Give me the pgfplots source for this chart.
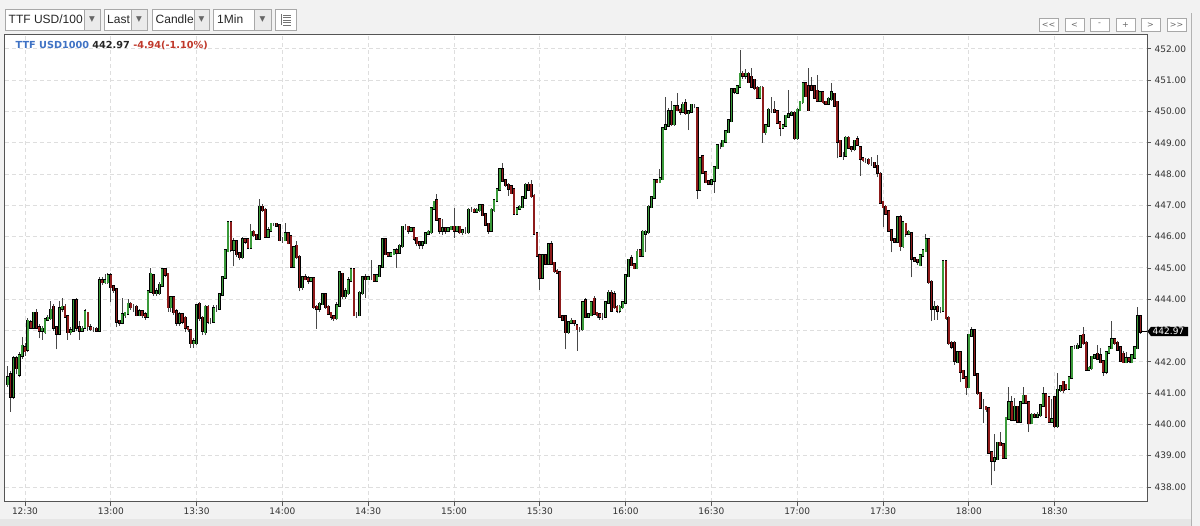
\documentclass[border=0pt]{standalone}
\usepackage{fontspec}
\setmainfont{DejaVu Sans}
\newfontfamily\arialfont{Liberation Sans}
\usepackage{pgfplots}
\pgfplotsset{compat=1.18}
\usepackage{pgfplotstable}
\usetikzlibrary{backgrounds}
\definecolor{bgcol}{HTML}{F2F2F2}
\definecolor{bandcol}{HTML}{E6E6E6}
\definecolor{upcol}{HTML}{3A9A3A}
\definecolor{dncol}{HTML}{8E1B1B}
\definecolor{wickcol}{HTML}{484848}
\definecolor{gridcol}{HTML}{DEDEDE}
\definecolor{axcol}{HTML}{555555}
\definecolor{lblcol}{HTML}{333333}
\definecolor{titleblue}{HTML}{3F72C4}
\definecolor{titlered}{HTML}{C0392B}
\definecolor{boxborder}{HTML}{A8A8A8}

\pgfplotstableread{
i o h l c
0 441.30 441.85 441.20 441.50
1 441.60 441.70 440.40 440.90
2 440.90 442.20 440.80 442.10
3 442.10 442.20 441.60 441.80
4 441.60 442.30 441.50 442.20
5 442.20 442.80 442.10 442.50
6 442.45 442.60 442.20 442.35
7 442.40 443.40 442.30 443.30
8 443.25 443.35 443.05 443.10
9 443.10 443.60 443.05 443.55
10 443.55 443.70 443.05 443.10
11 443.10 443.20 442.75 443.00
12 443.00 443.15 442.70 443.05
13 442.95 443.40 442.90 443.35
14 443.35 443.50 443.30 443.40
15 443.40 443.95 443.35 443.65
16 443.75 443.85 443.00 443.10
17 443.10 443.15 442.40 442.90
18 442.90 443.95 442.85 443.70
19 443.70 444.05 443.60 443.75
20 443.75 443.85 443.40 443.45
21 443.45 443.50 442.70 442.95
22 442.95 443.10 442.85 443.00
23 443.00 444.00 442.95 443.95
24 443.95 444.05 443.00 443.10
25 443.10 443.30 442.70 443.00
26 443.00 443.15 442.95 443.05
27 443.10 443.70 443.05 443.60
28 443.55 443.60 443.00 443.15
29 443.10 443.20 443.00 443.05
30 443.05 443.10 442.95 443.05
31 443.05 443.10 442.95 443.00
32 443.00 444.70 442.95 444.60
33 444.60 444.70 444.45 444.55
34 444.55 444.80 444.50 444.60
35 444.55 444.85 444.50 444.75
36 444.75 444.85 443.90 444.40
37 444.40 444.45 444.20 444.30
38 444.30 444.35 443.10 443.30
39 443.30 443.35 443.15 443.25
40 443.25 444.05 443.20 443.50
41 443.50 443.60 443.40 443.55
42 443.55 444.00 443.50 443.85
43 443.85 443.90 443.65 443.75
44 443.75 443.85 443.60 443.75
45 443.75 443.80 443.45 443.50
46 443.50 443.70 443.45 443.60
47 443.60 443.65 443.40 443.50
48 443.50 443.60 443.35 443.45
49 443.45 444.30 443.40 444.25
50 444.25 445.00 444.20 444.80
51 444.75 444.80 444.10 444.20
52 444.20 444.35 444.10 444.25
53 444.20 444.55 444.15 444.45
54 444.45 445.00 444.40 444.95
55 444.95 445.00 444.70 444.80
56 444.80 444.85 443.60 443.75
57 443.75 444.10 443.60 444.05
58 444.05 444.10 443.50 443.60
59 443.60 443.70 443.15 443.25
60 443.25 443.60 443.15 443.50
61 443.50 443.55 443.20 443.30
62 443.40 443.45 442.95 443.10
63 443.10 443.15 442.95 443.05
64 443.00 443.05 442.45 442.60
65 442.60 442.75 442.45 442.65
66 442.60 443.85 442.55 443.80
67 443.85 443.90 443.30 443.40
68 443.40 443.45 442.85 443.00
69 442.95 443.80 442.85 443.75
70 443.75 443.80 443.20 443.30
71 443.30 443.40 443.20 443.30
72 443.30 443.80 443.25 443.70
73 443.70 443.80 443.60 443.70
74 443.70 444.20 443.65 444.15
75 444.15 444.75 444.10 444.70
76 444.70 445.60 444.65 445.55
77 445.55 446.50 445.50 446.45
78 446.45 446.50 445.50 445.60
79 445.60 445.95 445.05 445.85
80 445.85 445.90 445.35 445.45
81 445.45 445.50 445.25 445.35
82 445.35 446.00 445.30 445.90
83 445.90 445.95 445.75 445.85
84 445.90 445.95 445.60 445.65
85 445.65 446.40 445.60 446.15
86 446.15 446.20 446.00 446.05
87 446.05 446.10 445.90 445.95
88 445.95 447.20 445.90 446.95
89 446.95 447.05 446.80 446.85
90 446.85 446.90 445.95 446.00
91 446.00 446.30 445.95 446.20
92 446.20 446.45 446.15 446.40
93 446.40 446.45 446.35 446.40
94 446.40 446.45 446.30 446.35
95 446.35 446.40 445.85 445.90
96 445.90 446.00 445.80 445.90
97 445.90 446.45 445.85 446.10
98 446.10 446.15 445.75 445.80
99 446.00 446.05 445.00 445.05
100 445.05 445.70 445.00 445.65
101 445.70 445.85 445.30 445.35
102 445.35 445.40 444.25 444.40
103 444.40 444.75 444.30 444.70
104 444.70 444.80 444.60 444.65
105 444.65 444.75 444.50 444.60
106 444.60 444.70 444.55 444.65
107 444.65 444.70 443.70 443.75
108 443.75 443.80 443.05 443.70
109 443.70 443.90 443.60 443.85
110 443.85 444.20 443.80 444.15
111 444.15 444.20 443.70 443.75
112 443.75 443.80 443.50 443.55
113 443.55 443.60 443.35 443.45
114 443.45 443.50 443.30 443.40
115 443.40 443.90 443.35 443.80
116 443.80 444.90 443.75 444.85
117 444.80 444.85 444.00 444.10
118 444.10 444.35 444.00 444.25
119 444.20 444.70 444.15 444.60
120 444.60 445.00 444.55 444.95
121 444.95 445.00 443.45 443.50
122 443.50 443.60 443.40 443.50
123 443.50 444.25 443.45 444.20
124 444.20 444.75 444.15 444.70
125 444.70 444.80 444.05 444.65
126 444.65 444.75 444.60 444.70
127 444.70 445.25 444.60 444.70
128 444.75 444.80 444.55 444.60
129 444.60 444.80 444.55 444.75
130 444.75 445.10 444.70 445.05
131 445.05 445.95 445.00 445.90
132 445.90 445.95 445.40 445.45
133 445.45 445.50 445.35 445.40
134 445.40 445.50 445.35 445.45
135 445.45 445.60 445.40 445.55
136 445.55 445.65 445.00 445.50
137 445.50 445.75 445.45 445.70
138 445.70 446.35 445.65 446.30
139 446.30 446.40 446.20 446.30
140 446.30 446.35 446.10 446.20
141 446.20 446.30 446.15 446.25
142 446.25 446.30 445.85 445.95
143 445.95 446.00 445.70 445.80
144 445.80 445.85 445.60 445.75
145 445.75 445.85 445.60 445.80
146 445.80 446.15 445.75 446.10
147 446.10 446.20 446.05 446.15
148 446.15 446.95 446.10 446.90
149 446.90 447.15 446.85 447.10
150 447.15 447.35 446.50 446.55
151 446.55 446.60 446.10 446.20
152 446.20 446.55 446.05 446.25
153 446.25 446.30 446.10 446.20
154 446.20 446.30 446.15 446.25
155 446.25 446.35 446.20 446.30
156 446.30 446.90 445.95 446.20
157 446.20 446.35 446.15 446.30
158 446.30 446.35 446.10 446.15
159 446.15 446.25 446.05 446.20
160 446.20 446.30 446.10 446.20
161 446.15 446.90 446.10 446.85
162 446.85 446.95 446.80 446.85
163 446.85 446.90 446.75 446.80
164 446.80 446.90 446.75 446.85
165 446.85 447.05 446.80 447.00
166 447.00 447.05 446.65 446.70
167 446.70 446.75 446.35 446.40
168 446.40 446.45 446.10 446.20
169 446.20 446.90 446.15 446.85
170 446.85 447.20 446.80 447.15
171 447.15 447.55 447.10 447.50
172 447.50 448.20 447.45 448.15
173 448.15 448.35 447.75 447.80
174 447.80 447.85 447.60 447.65
175 447.65 447.70 447.30 447.55
176 447.60 447.65 447.35 447.40
177 447.50 447.55 446.70 446.75
178 446.75 446.95 446.70 446.90
179 446.90 447.00 446.85 446.95
180 446.95 447.30 446.90 447.25
181 447.25 447.70 447.20 447.65
182 447.65 447.75 447.45 447.50
183 447.65 447.80 447.25 447.30
184 447.30 447.35 446.05 446.10
185 446.10 446.15 445.35 445.40
186 445.40 445.45 444.30 444.70
187 444.70 445.45 444.65 445.40
188 445.40 445.45 445.10 445.15
189 445.15 445.80 445.10 445.75
190 445.75 445.85 445.10 445.15
191 445.15 445.20 444.85 444.90
192 444.90 444.95 444.80 444.85
193 444.85 444.90 443.40 443.45
194 443.45 443.50 443.30 443.35
195 443.45 443.50 442.40 442.95
196 442.95 443.30 442.90 443.25
197 443.25 443.40 443.20 443.30
198 443.30 443.35 443.15 443.25
199 443.15 443.20 442.35 443.05
200 443.05 443.10 442.95 443.05
201 443.05 443.95 443.00 443.90
202 443.95 444.05 443.40 443.45
203 443.45 443.55 443.40 443.50
204 443.50 443.95 443.45 443.90
205 444.00 444.10 443.50 443.55
206 443.55 443.60 443.40 443.50
207 443.50 443.55 443.35 443.45
208 443.45 443.55 443.35 443.45
209 443.45 443.95 443.40 443.90
210 443.90 444.30 443.85 444.20
211 444.20 444.30 443.60 443.65
212 444.15 444.25 443.70 443.75
213 443.75 443.80 443.55 443.65
214 443.65 443.80 443.55 443.75
215 443.75 443.95 443.70 443.90
216 443.90 444.80 443.85 444.75
217 444.75 445.30 444.70 445.25
218 445.30 445.40 445.05 445.10
219 445.10 445.15 444.95 445.00
220 445.00 445.60 444.95 445.50
221 445.55 445.60 445.35 445.40
222 445.40 446.20 445.35 446.15
223 446.10 446.20 445.50 446.15
224 446.15 447.00 446.10 446.95
225 446.95 447.30 446.90 447.25
226 447.25 447.85 447.20 447.80
227 447.80 447.85 447.70 447.75
228 447.75 448.15 447.70 447.85
229 447.85 449.50 447.80 449.45
230 449.45 450.45 449.40 449.55
231 449.55 450.10 449.50 450.00
232 450.00 450.35 449.55 449.60
233 449.60 450.20 449.55 450.15
234 450.15 450.60 450.00 450.05
235 450.05 450.10 449.90 450.00
236 450.00 450.30 449.95 450.20
237 450.25 450.40 449.90 449.95
238 449.95 450.05 449.40 450.00
239 450.00 450.25 449.95 450.20
240 450.20 450.25 450.10 450.20
241 450.10 450.15 447.20 447.50
242 447.50 448.55 447.45 448.50
243 448.55 448.60 448.00 448.05
244 448.05 448.10 447.70 447.75
245 447.75 447.80 447.65 447.70
246 447.70 447.85 447.65 447.80
247 447.80 448.25 447.40 448.20
248 448.20 448.95 448.15 448.90
249 448.90 449.00 448.80 448.90
250 448.90 449.10 448.85 449.05
251 449.05 449.40 449.00 449.35
252 449.35 449.75 449.30 449.70
253 449.70 450.75 449.65 450.70
254 450.70 450.75 450.55 450.65
255 450.60 450.85 450.55 450.80
256 450.80 451.95 450.75 451.20
257 451.20 451.30 451.05 451.15
258 451.15 451.35 451.05 451.20
259 451.20 451.25 450.90 450.95
260 451.10 451.40 450.75 450.80
261 451.00 451.05 450.70 450.75
262 450.75 450.80 450.40 450.45
263 450.45 450.80 450.40 450.75
264 450.75 450.80 449.00 449.35
265 449.35 449.60 449.25 449.55
266 449.55 450.10 449.50 450.05
267 450.05 450.45 449.95 450.05
268 450.05 450.35 449.95 450.00
269 450.00 450.05 449.60 449.65
270 449.65 449.70 449.20 449.50
271 449.50 449.60 449.45 449.55
272 449.55 449.90 449.50 449.85
273 449.85 450.70 449.80 449.90
274 449.90 450.00 449.85 449.95
275 449.95 450.00 449.10 449.15
276 449.15 450.10 449.10 450.05
277 450.05 450.35 450.00 450.30
278 450.30 450.95 450.25 450.90
279 450.90 450.95 450.45 450.50
280 450.80 451.40 450.00 450.05
281 450.80 451.10 450.65 450.70
282 450.80 450.85 450.40 450.45
283 450.65 451.15 450.30 450.35
284 450.35 450.65 450.30 450.60
285 450.60 450.65 450.25 450.30
286 450.30 450.35 450.20 450.25
287 450.25 450.45 450.20 450.40
288 450.40 450.90 450.35 450.60
289 450.55 450.60 450.15 450.20
290 450.30 450.35 448.50 449.05
291 449.05 449.10 448.55 448.60
292 448.60 448.70 448.45 448.60
293 448.60 449.20 448.55 449.15
294 449.15 449.20 448.80 448.85
295 448.85 448.90 448.70 448.80
296 448.80 449.10 448.75 449.05
297 449.10 449.20 448.90 448.95
298 448.85 448.90 447.95 448.50
299 448.50 448.55 448.40 448.45
300 448.45 448.50 448.35 448.45
301 448.45 448.50 448.30 448.35
302 448.35 448.55 448.25 448.35
303 448.35 448.40 448.20 448.25
304 448.25 448.60 447.90 448.05
305 448.00 448.05 447.05 447.10
306 447.10 447.15 446.30 446.95
307 446.95 447.00 446.70 446.75
308 446.80 446.85 446.15 446.20
309 446.20 446.25 445.50 445.90
310 445.90 445.95 445.80 445.85
311 445.85 446.65 445.80 446.60
312 446.60 446.70 445.55 445.70
313 445.70 446.50 445.65 446.45
314 446.40 446.45 446.00 446.10
315 446.10 446.20 446.05 446.15
316 446.10 446.15 444.70 445.30
317 445.30 445.35 445.20 445.25
318 445.25 445.30 445.10 445.20
319 445.10 445.45 445.05 445.40
320 445.40 445.60 445.35 445.55
321 445.55 446.10 445.50 445.90
322 445.90 445.95 444.50 444.55
323 444.55 444.60 443.30 443.70
324 443.70 443.95 443.35 443.75
325 443.75 443.80 443.35 443.65
326 443.65 443.75 443.55 443.65
327 443.65 445.25 443.60 445.20
328 445.20 445.25 443.35 443.40
329 443.40 443.45 442.55 442.60
330 442.60 442.65 442.40 442.50
331 442.60 442.65 441.90 442.05
332 442.00 442.35 441.95 442.30
333 442.30 442.35 441.35 441.70
334 441.70 441.75 441.45 441.50
335 441.50 441.55 440.95 441.20
336 441.20 442.90 441.15 442.85
337 442.85 443.10 442.80 443.00
338 443.00 443.05 441.55 441.60
339 441.60 441.65 440.95 441.00
340 441.00 441.05 440.50 440.55
341 440.55 440.80 440.05 440.55
342 440.55 440.60 440.40 440.50
343 440.50 440.55 439.05 439.10
344 439.10 439.15 438.05 438.85
345 438.85 439.70 438.50 438.90
346 438.90 439.45 438.85 439.40
347 439.40 439.75 439.30 439.35
348 439.35 439.40 438.90 438.95
349 438.95 440.25 438.90 440.20
350 440.20 441.20 440.15 440.70
351 440.70 440.90 440.10 440.15
352 440.15 440.85 440.10 440.55
353 440.55 440.60 440.05 440.10
354 440.10 440.75 440.05 440.70
355 440.70 441.20 440.65 440.90
356 440.90 440.95 440.65 440.70
357 440.70 440.75 439.75 440.05
358 440.05 440.35 440.00 440.30
359 440.30 440.35 440.20 440.25
360 440.25 440.40 440.20 440.30
361 440.30 440.65 440.25 440.60
362 440.60 441.20 440.55 440.95
363 440.95 441.00 440.20 440.25
364 440.85 440.90 440.05 440.10
365 440.10 440.80 440.05 440.15
366 440.85 440.90 439.90 439.95
367 439.95 441.65 439.90 441.10
368 441.10 441.25 441.05 441.20
369 441.35 441.40 441.00 441.10
370 441.25 441.30 441.10 441.15
371 441.15 441.55 441.10 441.50
372 441.50 442.50 441.45 442.45
373 442.45 442.55 442.40 442.45
374 442.45 442.60 442.40 442.50
375 442.50 442.85 442.45 442.80
376 442.85 443.10 442.55 442.60
377 442.60 442.65 441.70 441.75
378 441.75 441.85 441.70 441.80
379 441.80 442.20 441.75 442.15
380 442.15 442.25 442.10 442.20
381 442.25 442.55 442.05 442.10
382 442.20 442.45 441.95 442.00
383 442.00 442.05 441.55 441.70
384 441.70 442.35 441.60 442.30
385 442.30 442.50 442.25 442.45
386 442.45 443.30 442.40 442.70
387 442.70 442.75 442.55 442.60
388 442.60 442.65 442.35 442.40
389 442.45 442.50 442.00 442.05
390 442.25 442.35 441.95 442.00
391 442.00 442.30 441.95 442.10
392 442.10 442.15 441.95 442.05
393 442.00 442.25 441.95 442.20
394 442.15 442.50 442.10 442.45
395 442.45 443.75 442.40 443.45
396 443.45 443.50 442.90 442.97
}\candles

\tikzset{
  tbox/.style={draw=boxborder, fill=white, line width=0.8pt},
  tarr/.style={draw=boxborder, fill=black!8, line width=0.8pt},
  tbtn/.style={draw=boxborder, fill=white, line width=0.8pt},
}

\begin{document}
\begin{tikzpicture}[x=1pt,y=1pt]
\begin{axis}[
  anchor=south west, at={(0,0)},
  scale only axis, width=1142pt, height=467.5pt,
  xmin=-0.99, xmax=398.3, ymin=437.52, ymax=452.46,
  axis background/.style={fill=white},
  axis line style={draw=axcol, line width=1pt},
  clip mode=individual,
  xtick={6,36,66,96,126,156,186,216,246,276,306,336,366},
  xticklabels={12:30,13:00,13:30,14:00,14:30,15:00,15:30,16:00,16:30,17:00,17:30,18:00,18:30},
  ytick={438,439,440,441,442,443,444,445,446,447,448,449,450,451,452},
  yticklabels={438.00,439.00,440.00,441.00,442.00,443.00,444.00,445.00,446.00,447.00,448.00,449.00,450.00,451.00,452.00},
  xtick pos=left, ytick pos=right, yticklabel pos=right,
  tick align=outside, major tick length=4pt,
  tick style={draw=axcol, line width=0.8pt},
  xmajorgrids, ymajorgrids,
  major grid style={draw=gridcol, line width=0.9pt, dash pattern=on 4pt off 3pt},
  xticklabel style={font=\fontsize{9}{10}\selectfont, text=lblcol, yshift=1.5pt},
  yticklabel style={font=\fontsize{9}{10}\selectfont, text=lblcol},
]
% wicks
\addplot[draw=none, forget plot, error bars/.cd, y dir=plus, y explicit, error mark=none,
  error bar style={draw=wickcol, line width=0.9pt}]
  table[x=i, y=l, y error expr={\thisrow{h}-\thisrow{l}}] {\candles};
% up bodies
\addplot[draw=none, forget plot, error bars/.cd, y dir=plus, y explicit, error mark=none,
  error bar style={draw=black, line width=2.8pt, line cap=rect}]
  table[x=i, y expr={\thisrow{c}>=\thisrow{o} ? \thisrow{o} : 430}, y error expr={abs(\thisrow{c}-\thisrow{o})}] {\candles};
\addplot[draw=none, forget plot, error bars/.cd, y dir=plus, y explicit, error mark=none,
  error bar style={draw=upcol, line width=1.6pt, line cap=rect}]
  table[x=i, y expr={\thisrow{c}>=\thisrow{o} ? \thisrow{o} : 430}, y error expr={abs(\thisrow{c}-\thisrow{o})}] {\candles};
% down bodies
\addplot[draw=none, forget plot, error bars/.cd, y dir=plus, y explicit, error mark=none,
  error bar style={draw=black, line width=2.8pt, line cap=rect}]
  table[x=i, y expr={\thisrow{c}<\thisrow{o} ? \thisrow{c} : 430}, y error expr={abs(\thisrow{c}-\thisrow{o})}] {\candles};
\addplot[draw=none, forget plot, error bars/.cd, y dir=plus, y explicit, error mark=none,
  error bar style={draw=dncol, line width=1.6pt, line cap=rect}]
  table[x=i, y expr={\thisrow{c}<\thisrow{o} ? \thisrow{c} : 430}, y error expr={abs(\thisrow{c}-\thisrow{o})}] {\candles};
\coordinate (pbl) at (rel axis cs:0,0);
\coordinate (lastp) at (axis cs:398.3,442.97);
\coordinate (lastc) at (axis cs:396.3,442.97);
\end{axis}

% last price marker
\draw[black, line width=0.8pt] (lastc) -- (lastp);
\fill[black] (lastp) ++(0.5,0) -- ++(3.5,4.7) -- ++(37,0) -- ++(0,-9.4) -- ++(-37,0) -- cycle;
\node[anchor=west, inner sep=0, text=white, font=\fontsize{9}{10}\selectfont] at ([xshift=5.5pt]lastp) {442.97};

\begin{scope}[shift={(pbl)}, xshift=-5pt, yshift=-24pt]
  \begin{scope}[on background layer]
    \fill[bgcol] (0,0) rectangle (1200,526);
    \fill[bandcol] (0,0) rectangle (1191,7);
  \end{scope}
  \draw[gray!60, line width=1pt] (1191.5,0) -- (1191.5,513);

  % toolbar (left)
  \draw[tbox] (5,496) rectangle (84,517);
  \node[anchor=base west, inner sep=0, font=\arialfont\fontsize{12}{12}\selectfont, text=black!85] at (8.5,502) {TTF USD/100};
  \draw[tarr] (84,496) rectangle (100,517);
  \node[font=\fontsize{7.5}{8}\selectfont, text=black!60] at (92,506.5) {▼};
  \draw[tbox] (104,496) rectangle (131,517);
  \node[anchor=base west, inner sep=0, font=\arialfont\fontsize{12}{12}\selectfont, text=black!85] at (107,502) {Last};
  \draw[tarr] (131,496) rectangle (147,517);
  \node[font=\fontsize{7.5}{8}\selectfont, text=black!60] at (139,506.5) {▼};
  \draw[tbox] (152,496) rectangle (194,517);
  \node[anchor=base west, inner sep=0, font=\arialfont\fontsize{12}{12}\selectfont, text=black!85] at (155.5,502) {Candle};
  \draw[tarr] (194,496) rectangle (209,517);
  \node[font=\fontsize{7.5}{8}\selectfont, text=black!60] at (201.5,506.5) {▼};
  \draw[tbox] (213,496) rectangle (254,517);
  \node[anchor=base west, inner sep=0, font=\arialfont\fontsize{12}{12}\selectfont, text=black!85] at (217,502) {1Min};
  \draw[tarr] (254,496) rectangle (271,517);
  \node[font=\fontsize{7.5}{8}\selectfont, text=black!60] at (262.5,506.5) {▼};
  \draw[tbox] (275,496) rectangle (296,517);
  \draw[black!55, line width=0.6pt] (281,500.5) -- (281,512);
  \foreach \yy in {501,503.5,506,508.5,511} {\draw[black!55, line width=0.6pt] (283,\yy) -- (291,\yy);}

  % toolbar (right)
  \foreach \xx/\lab in {1039/{<{}<},1065/{<},1090/{-},1116/{+},1141/{>},1167/{>{}>}} {
    \draw[tbtn] (\xx,495) rectangle ++(19,12.5);
    \node[font=\fontsize{8}{8}\selectfont, text=black!60, inner sep=0] at (\xx+9.5,501.3) {\lab};
  }

  % title
  \node[anchor=base west, inner sep=0, font=\bfseries\fontsize{9.7}{11}\selectfont] at (15.5,477.5)
    {\textcolor{titleblue}{TTF USD1000} \textcolor{black!85}{442.97} \textcolor{titlered}{-4.94(-1.10\%)}};

  \pgfresetboundingbox
  \path[use as bounding box] (0,0) rectangle (1200,526);
\end{scope}
\end{tikzpicture}
\end{document}
